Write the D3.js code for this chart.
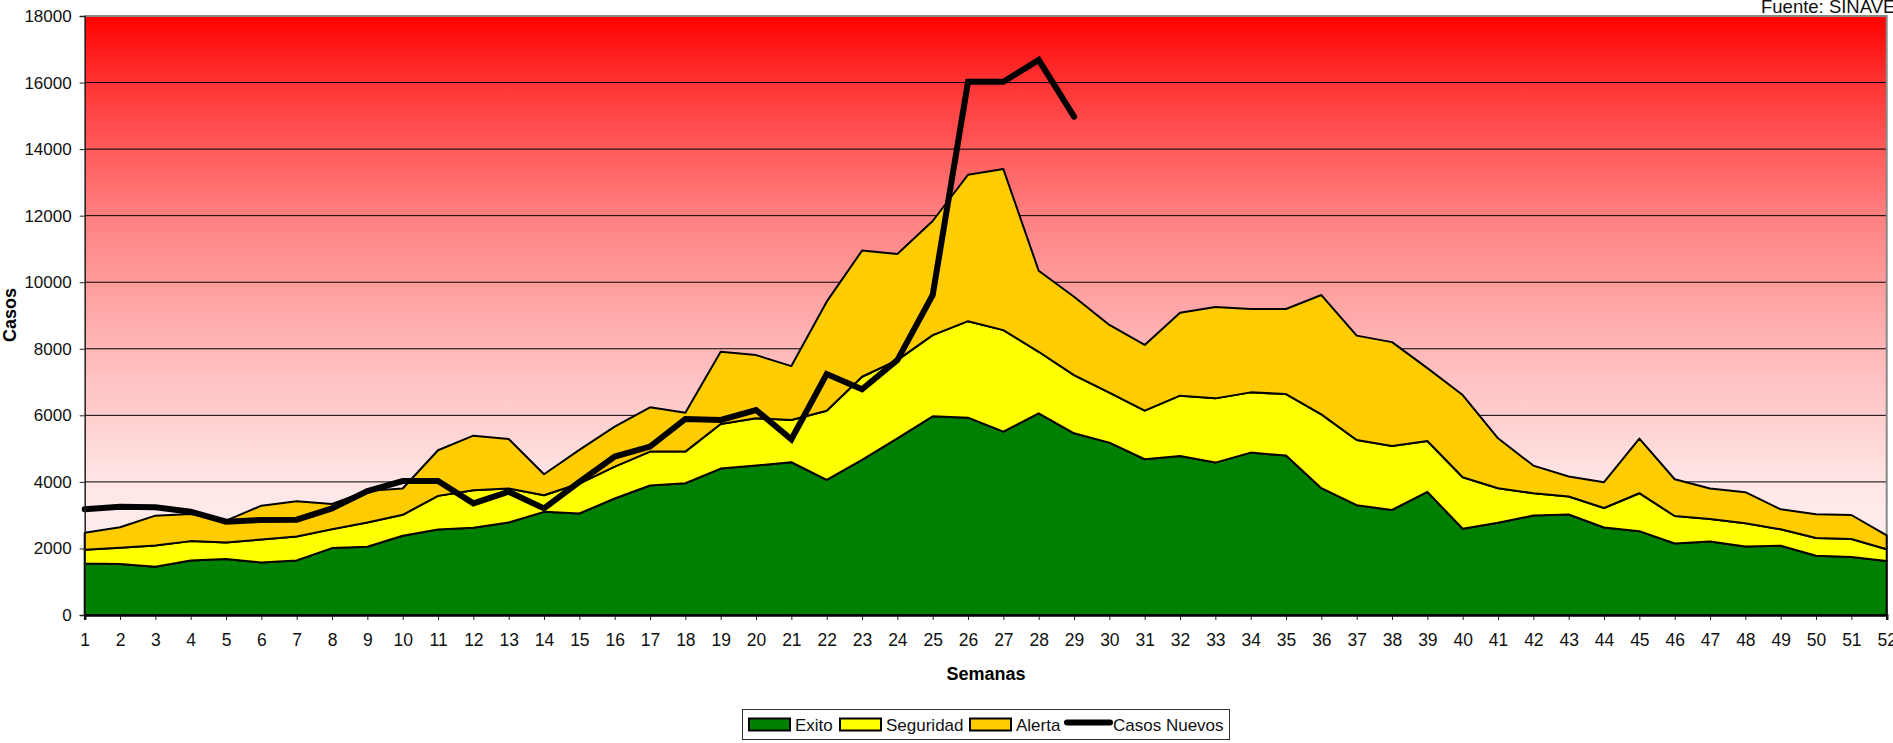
<!DOCTYPE html>
<html>
<head>
<meta charset="utf-8">
<script src="https://cdn.jsdelivr.net/npm/d3@7"></script>
<style>
  body { margin: 0; background: #fff; }
  svg { display: block; font-family: "Liberation Sans", Arial, sans-serif; }
</style>
</head>
<body>
<div id="chart"></div>
<script>
// semanas epidemiologicas
var weeks = d3.range(1, 53);

// casos por zona (apiladas)
var exito = [1550,1530,1450,1640,1680,1580,1640,2010,2050,2380,2570,2620,2780,3100,3050,3500,3890,3960,4400,4490,4590,4060,4660,5310,5970,5930,5510,6060,5460,5180,4680,4780,4580,4880,4790,3810,3300,3155,3700,2590,2770,2990,3020,2630,2520,2150,2210,2060,2080,1780,1740,1620];
var seguridad = [410,490,640,580,500,690,720,570,730,630,1010,1130,1020,500,900,960,1020,950,1340,1420,1270,2080,2500,2350,2440,2900,3050,1850,1750,1500,1460,1810,1930,1810,1850,2220,1960,1925,1530,1550,1040,670,540,585,1140,825,675,695,495,535,545,355];
var alerta = [515,615,895,815,655,1015,1055,755,950,790,1370,1640,1490,630,1010,1200,1330,1170,2170,1900,1620,3275,3790,3190,3430,4400,4840,2435,2355,2035,1975,2495,2745,2505,2555,3585,3135,3120,2190,2470,1500,830,600,775,1640,1105,915,935,600,710,720,420];

// casos nuevos (semanas 1-29)
var casosNuevos = [3175,3255,3235,3105,2805,2855,2865,3205,3725,4025,4025,3355,3705,3205,4000,4760,5060,5890,5860,6160,5280,7240,6780,7660,9615,16025,16025,16680,14975];

var yTicks = d3.range(0, 18001, 2000);
var seriesNames = ["Exito", "Seguridad", "Alerta"];
var seriesColors = {"Exito": "#008000", "Seguridad": "#FFFF00", "Alerta": "#FFCC00"};

var W = 1893, H = 743;
var margin = {left: 84.7, top: 16, right: 6, bottom: 128};

var svg = d3.select("#chart").append("svg")
    .attr("width", W)
    .attr("height", H);

var x = d3.scaleLinear().domain([1, 52]).range([margin.left, 1886.7]);
var y = d3.scaleLinear().domain([0, 18000]).range([615, margin.top]);

// fondo degradado rojo -> blanco
var defs = svg.append("defs");
var grad = defs.append("linearGradient")
    .attr("id", "bg")
    .attr("x1", 0).attr("y1", 0).attr("x2", 0).attr("y2", 1);
[[0, "#FF0000"], [0.11, "#FF3333"], [0.33, "#FF7F7F"], [0.55, "#FFB6B6"], [0.78, "#FFE6E6"], [1, "#FFF6F6"]]
  .forEach(function(s){
    grad.append("stop").attr("offset", s[0]).attr("stop-color", s[1]);
  });

svg.append("rect")
    .attr("x", x(1))
    .attr("y", y(18000))
    .attr("width", x(52) - x(1))
    .attr("height", y(0) - y(18000))
    .style("fill", "url(#bg)");

// lineas de cuadricula
svg.append("g")
    .selectAll("line")
    .data(yTicks.filter(function(d){ return d > 0 && d < 18000; }))
    .enter().append("line")
      .attr("x1", x(1))
      .attr("x2", x(52))
      .attr("y1", function(d){ return y(d); })
      .attr("y2", function(d){ return y(d); })
      .style("stroke", "#000")
      .style("stroke-width", 1);

// borde superior y derecho
svg.append("path")
    .attr("d", "M" + x(1) + "," + y(18000) + "H" + x(52) + "V" + y(0))
    .style("fill", "none")
    .style("stroke", "#888")
    .style("stroke-width", 2);

// areas apiladas
var table = weeks.map(function(w, i){
  return {week: w, Exito: exito[i], Seguridad: seguridad[i], Alerta: alerta[i]};
});
var stacked = d3.stack().keys(seriesNames)(table);

var area = d3.area()
    .x(function(d){ return x(d.data.week); })
    .y0(function(d){ return y(d[0]); })
    .y1(function(d){ return y(d[1]); });

svg.append("g")
    .selectAll("path")
    .data(stacked)
    .enter().append("path")
      .attr("d", area)
      .style("fill", function(d){ return seriesColors[d.key]; })
      .style("stroke", "#000")
      .style("stroke-width", 2)
      .style("stroke-linejoin", "round");

// casos nuevos
var line = d3.line()
    .x(function(d, i){ return x(weeks[i]); })
    .y(function(d){ return y(d); });

svg.append("path")
    .datum(casosNuevos)
    .attr("d", line)
    .style("fill", "none")
    .style("stroke", "#000")
    .style("stroke-width", 6)
    .style("stroke-linecap", "round")
    .style("stroke-linejoin", "miter");

// ejes
var yAxis = svg.append("g")
    .attr("transform", "translate(" + x(1) + ",0)")
    .call(d3.axisLeft(y).tickValues(yTicks).tickSize(5).tickPadding(8).tickFormat(d3.format("d")));
yAxis.select(".domain").style("stroke", "#222").style("stroke-width", 1.5);
yAxis.selectAll("line").style("stroke", "#222");
yAxis.selectAll("text")
    .style("font-size", "17px")
    .style("fill", "#111")
    .style("font-family", "Liberation Sans, Arial, sans-serif");

var xAxis = svg.append("g")
    .attr("transform", "translate(0," + y(0) + ")")
    .call(d3.axisBottom(x).tickValues(weeks).tickSize(5).tickPadding(14).tickFormat(d3.format("d")));
xAxis.select(".domain").style("stroke", "#000").style("stroke-width", 2.5);
xAxis.selectAll("line").style("stroke", "#222");
xAxis.selectAll("text")
    .style("font-size", "17.5px")
    .style("fill", "#111")
    .style("font-family", "Liberation Sans, Arial, sans-serif");

// titulos de ejes
svg.append("text")
    .attr("x", 986)
    .attr("y", 680)
    .style("text-anchor", "middle")
    .style("font-size", "18px")
    .style("font-weight", "bold")
    .text("Semanas");

svg.append("text")
    .attr("transform", "translate(15.5,315) rotate(-90)")
    .style("text-anchor", "middle")
    .style("font-size", "18px")
    .style("font-weight", "bold")
    .text("Casos");

svg.append("text")
    .attr("x", 1761)
    .attr("y", 12.5)
    .style("font-size", "18.5px")
    .style("fill", "#111")
    .text("Fuente: SINAVE");

// leyenda
var legend = svg.append("g");
legend.append("rect")
    .attr("x", 742.5)
    .attr("y", 709.5)
    .attr("width", 487)
    .attr("height", 30)
    .style("fill", "#fff")
    .style("stroke", "#333")
    .style("stroke-width", 1);

var legendItems = [
  {name: "Exito", sx: 749, tx: 795, type: "area"},
  {name: "Seguridad", sx: 840, tx: 886, type: "area"},
  {name: "Alerta", sx: 970, tx: 1016, type: "area"},
  {name: "Casos Nuevos", sx: 1067, tx: 1113, type: "line"}
];

legendItems.forEach(function(it){
  if(it.type == "area"){
    legend.append("rect")
        .attr("x", it.sx)
        .attr("y", 718.5)
        .attr("width", 41)
        .attr("height", 12)
        .style("fill", seriesColors[it.name])
        .style("stroke", "#000")
        .style("stroke-width", 2);
  }else{
    legend.append("line")
        .attr("x1", it.sx)
        .attr("x2", it.sx + 43)
        .attr("y1", 722.5)
        .attr("y2", 722.5)
        .style("stroke", "#000")
        .style("stroke-width", 6)
        .style("stroke-linecap", "round");
  }
  legend.append("text")
      .attr("x", it.tx)
      .attr("y", 731)
      .style("font-size", "17px")
      .style("fill", "#111")
      .text(it.name);
});
</script>
</body>
</html>
